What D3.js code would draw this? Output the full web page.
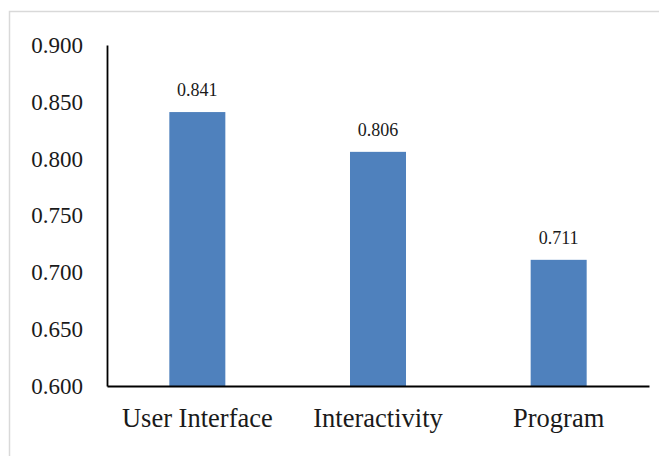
<!DOCTYPE html>
<html>
<head>
<meta charset="utf-8">
<script src="https://cdn.jsdelivr.net/npm/d3@7"></script>
<style>
  html, body { margin: 0; padding: 0; background: #fff; }
  svg { display: block; }
  svg text { font-family: "Times New Roman", "Liberation Serif", Tinos, "DejaVu Serif", serif !important; fill: #1a1a1a; }
</style>
</head>
<body>
<svg id="chart" width="659" height="456"></svg>
<script>
// Scores per category
const categories = ["User Interface", "Interactivity", "Program"];
const scores = [0.841, 0.806, 0.711];
const yTicks = [0.600, 0.650, 0.700, 0.750, 0.800, 0.850, 0.900];

const W = 659, H = 456;
const plot = { left: 107, right: 649, top: 45, bottom: 386 };
const serif = "'Times New Roman', 'Liberation Serif', 'DejaVu Serif', serif";

const svg = d3.select("#chart");

// light frame around the chart area
svg.append("rect")
  .attr("x", 9.5).attr("y", 11.5)
  .attr("width", W + 10).attr("height", H + 10)
  .attr("fill", "none")
  .attr("stroke", "#d9d9d9")
  .attr("stroke-width", 1.5);

const x = d3.scaleBand()
  .domain(categories)
  .range([plot.left, plot.right])
  .paddingInner(0.69)
  .paddingOuter(0.345);

const y = d3.scaleLinear()
  .domain([0.6, 0.9])
  .range([plot.bottom, plot.top]);

// bars
svg.append("g").selectAll("rect")
  .data(categories)
  .join("rect")
  .attr("x", d => x(d))
  .attr("width", x.bandwidth())
  .attr("y", (d, i) => y(scores[i]))
  .attr("height", (d, i) => y(0.6) - y(scores[i]))
  .attr("fill", "#4f81bd");

// value labels
svg.append("g").selectAll("text")
  .data(categories)
  .join("text")
  .attr("x", d => x(d) + x.bandwidth() / 2)
  .attr("y", (d, i) => y(scores[i]) - 16)
  .attr("text-anchor", "middle")
  .style("font-family", serif)
  .attr("font-size", 18)
  .text((d, i) => d3.format(".3f")(scores[i]));

// y axis
const yAxis = d3.axisLeft(y)
  .tickValues(yTicks)
  .tickFormat(d3.format(".3f"))
  .tickSize(0)
  .tickPadding(24);
const gy = svg.append("g")
  .attr("transform", `translate(${plot.left},0)`)
  .call(yAxis);
gy.attr("font-family", null);
gy.select(".domain").attr("stroke", "#000").attr("stroke-width", 1.8);
gy.selectAll("text")
  .style("font-family", serif)
  .attr("font-size", 23)
  .attr("fill", "#1a1a1a");

// x axis
const xAxis = d3.axisBottom(x).tickSize(0).tickPadding(22);
const gx = svg.append("g")
  .attr("transform", `translate(0,${plot.bottom})`)
  .call(xAxis);
gx.attr("font-family", null);
gx.select(".domain").attr("stroke", "#000").attr("stroke-width", 1.8);
gx.selectAll("text")
  .style("font-family", serif)
  .attr("font-size", 26.5)
  .attr("fill", "#1a1a1a");
</script>
</body>
</html>
